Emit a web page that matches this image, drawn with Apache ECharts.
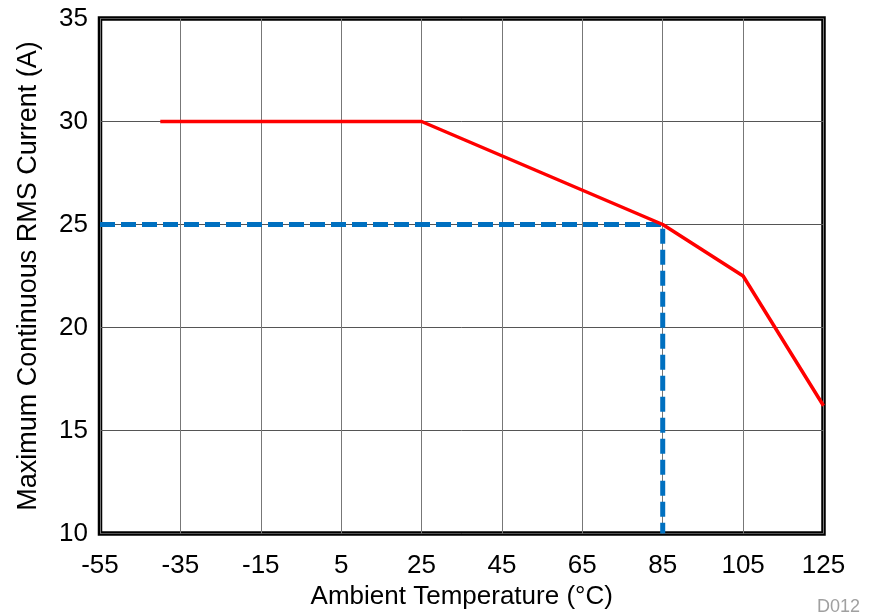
<!DOCTYPE html>
<html>
<head>
<meta charset="utf-8">
<script src="https://cdn.jsdelivr.net/npm/echarts@6/dist/echarts.min.js"></script>
<style>html,body{margin:0;padding:0;background:#fff;}#c{width:869px;height:616px;}</style>
</head>
<body>
<div id="c"></div>
<script>
// Data (temperature in °C, current in A)
const xTicks = [-55, -35, -15, 5, 25, 45, 65, 85, 105, 125];
const yTicks = [10, 15, 20, 25, 30, 35];
const deratingTemp = [-40, 25, 85, 105, 125];
const deratingCurrent = [30, 30, 25, 22.5, 16.2];
const markerTemp = [-55, 85, 85];
const markerCurrent = [25, 25, 10];

// axis offset so that the axis min is a multiple of the interval
const X_MIN = xTicks[0];
const shift = t => t - X_MIN;
const FONT = "'Liberation Sans', Arial, sans-serif";

const chart = echarts.init(document.getElementById('c'), null, {renderer: 'canvas'});
chart.setOption({
  animation: false,
  backgroundColor: '#fff',
  grid: {
    left: 100, top: 18.5, width: 723.5, height: 515,
    show: true, borderColor: '#000', borderWidth: 4.5, backgroundColor: 'transparent'
  },
  xAxis: {
    type: 'value',
    min: shift(xTicks[0]), max: shift(xTicks[xTicks.length - 1]), interval: 20,
    name: 'Ambient Temperature (°C)',
    nameLocation: 'middle', nameGap: 48,
    nameTextStyle: {fontFamily: FONT, fontSize: 26, color: '#000'},
    axisLine: {show: false}, axisTick: {show: false},
    axisLabel: {fontFamily: FONT, fontSize: 26, color: '#000', margin: 19,
      formatter: v => String(v + X_MIN)},
    splitLine: {show: true, lineStyle: {color: '#777', width: 1}}
  },
  yAxis: {
    type: 'value',
    min: yTicks[0], max: yTicks[yTicks.length - 1], interval: 5,
    name: 'Maximum Continuous RMS Current (A)',
    nameLocation: 'middle', nameGap: 58,
    nameTextStyle: {fontFamily: FONT, fontSize: 27, color: '#000'},
    axisLine: {show: false}, axisTick: {show: false},
    axisLabel: {fontFamily: FONT, fontSize: 26, color: '#000', margin: 12},
    splitLine: {show: true, lineStyle: {color: '#555', width: 1}}
  },
  graphic: [{
    type: 'text', left: 817, top: 598,
    style: {text: 'D012', fill: '#a0a0a0', font: "18px 'Liberation Sans', Arial, sans-serif"}
  }],
  series: [
    {
      type: 'line', symbol: 'none', silent: true,
      data: markerTemp.map((t, i) => [shift(t), markerCurrent[i]]),
      lineStyle: {color: '#0070C0', width: 5, type: [15, 6]}
    },
    {
      type: 'line', symbol: 'none', silent: true,
      data: deratingTemp.map((t, i) => [shift(t), deratingCurrent[i]]),
      lineStyle: {color: '#FF0000', width: 3.5}
    }
  ]
});
</script>
</body>
</html>
